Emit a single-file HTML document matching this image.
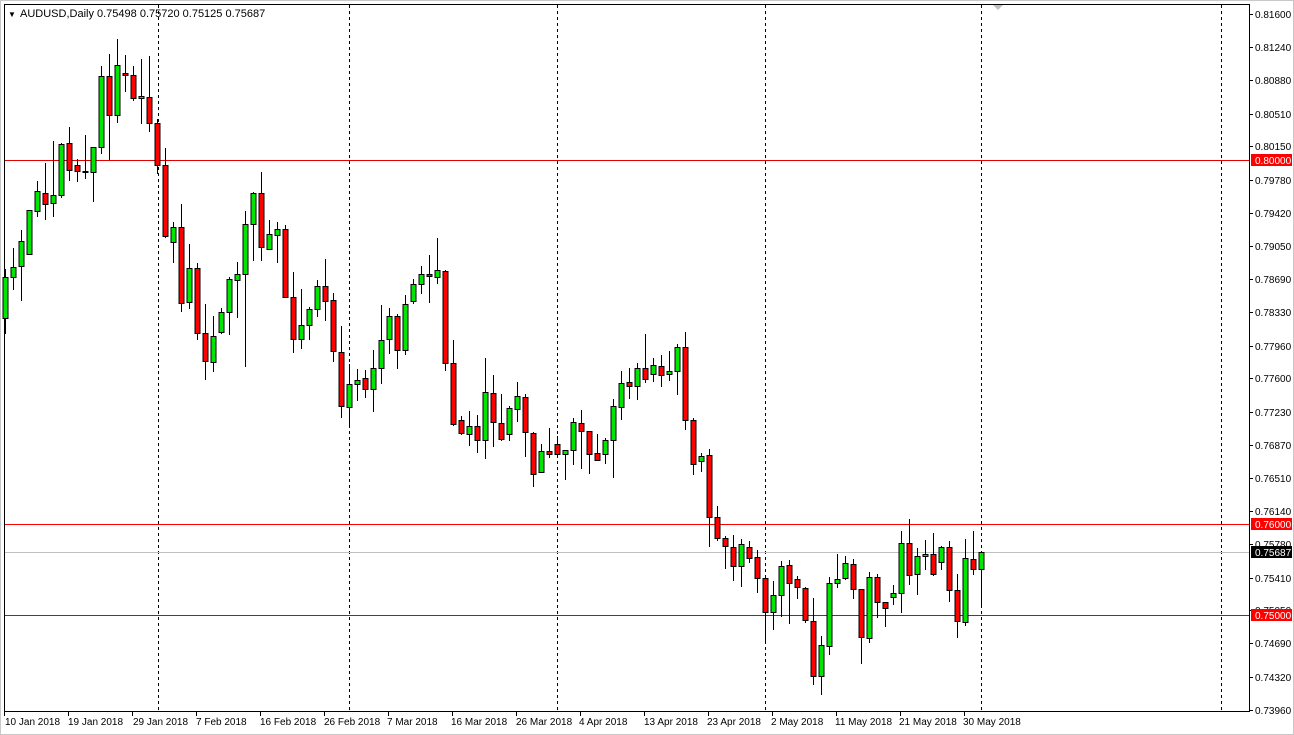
<!DOCTYPE html>
<html><head><meta charset="utf-8"><style>
body{margin:0;background:#fff;width:1294px;height:735px;overflow:hidden}
svg{display:block;font-family:"Liberation Sans",sans-serif}
</style></head><body>
<svg id="s" width="1294" height="735" xmlns="http://www.w3.org/2000/svg">
<rect x="0" y="0" width="1294" height="735" fill="#fff"/>
<rect x="0.5" y="0.5" width="1293" height="734" fill="none" stroke="#c8c8c8"/>
<line x1="4.5" y1="4" x2="4.5" y2="712" stroke="#000"/>
<line x1="4" y1="4.5" x2="1249" y2="4.5" stroke="#000"/>
<line x1="4" y1="711.5" x2="1249" y2="711.5" stroke="#000"/>
<line x1="1249.5" y1="4" x2="1249.5" y2="712" stroke="#000"/>
<g stroke="#000" stroke-dasharray="3,3">
<line x1="158.5" y1="5" x2="158.5" y2="711"/><line x1="349.5" y1="5" x2="349.5" y2="711"/>
<line x1="557.5" y1="5" x2="557.5" y2="711"/><line x1="765.5" y1="5" x2="765.5" y2="711"/>
<line x1="981.5" y1="5" x2="981.5" y2="711"/><line x1="1221.5" y1="5" x2="1221.5" y2="711"/>
</g>
<line x1="5" y1="160.5" x2="1249" y2="160.5" stroke="#e00000"/>
<line x1="5" y1="524.5" x2="1249" y2="524.5" stroke="#ff0000"/>
<line x1="5" y1="615.5" x2="1249" y2="615.5" stroke="#e00000"/>
<line x1="5" y1="552.5" x2="1249" y2="552.5" stroke="#c0c0c0"/>
<polygon points="993,5 1003,5 998,10" fill="#c0c0c0"/>
<g id="c"></g>
<text x="8" y="17" font-size="8" fill="#000">▼</text>
<text x="20" y="17" font-size="11" fill="#000">AUDUSD,Daily  0.75498 0.75720 0.75125 0.75687</text>
<g id="ax" font-size="10" fill="#000"></g>
<g font-size="10" fill="#000">
<text x="5" y="725">10 Jan 2018</text><text x="68" y="725">19 Jan 2018</text><text x="133" y="725">29 Jan 2018</text>
<text x="196" y="725">7 Feb 2018</text><text x="260" y="725">16 Feb 2018</text><text x="324" y="725">26 Feb 2018</text>
<text x="387" y="725">7 Mar 2018</text><text x="451" y="725">16 Mar 2018</text><text x="516" y="725">26 Mar 2018</text>
<text x="579" y="725">4 Apr 2018</text><text x="644" y="725">13 Apr 2018</text><text x="707" y="725">23 Apr 2018</text>
<text x="771" y="725">2 May 2018</text><text x="835" y="725">11 May 2018</text><text x="899" y="725">21 May 2018</text>
<text x="963" y="725">30 May 2018</text>
</g>
<g stroke="#000">
<line x1="4.5" y1="712" x2="4.5" y2="716"/><line x1="68.5" y1="712" x2="68.5" y2="716"/><line x1="132.5" y1="712" x2="132.5" y2="716"/>
<line x1="196.5" y1="712" x2="196.5" y2="716"/><line x1="260.5" y1="712" x2="260.5" y2="716"/><line x1="324.5" y1="712" x2="324.5" y2="716"/>
<line x1="388.5" y1="712" x2="388.5" y2="716"/><line x1="452.5" y1="712" x2="452.5" y2="716"/><line x1="516.5" y1="712" x2="516.5" y2="716"/>
<line x1="580.5" y1="712" x2="580.5" y2="716"/><line x1="644.5" y1="712" x2="644.5" y2="716"/><line x1="708.5" y1="712" x2="708.5" y2="716"/>
<line x1="772.5" y1="712" x2="772.5" y2="716"/><line x1="836.5" y1="712" x2="836.5" y2="716"/><line x1="900.5" y1="712" x2="900.5" y2="716"/>
<line x1="964.5" y1="712" x2="964.5" y2="716"/>
</g>
<rect x="1251" y="154" width="41" height="12" fill="#ff0000"/><text x="1255" y="164" font-size="10" fill="#fff">0.80000</text>
<rect x="1251" y="518" width="41" height="12" fill="#ff0000"/><text x="1255" y="528" font-size="10" fill="#fff">0.76000</text>
<rect x="1251" y="546" width="41" height="12" fill="#000"/><text x="1255" y="556" font-size="10" fill="#fff">0.75687</text>
<rect x="1251" y="609" width="41" height="12" fill="#ff0000"/><text x="1255" y="619" font-size="10" fill="#fff">0.75000</text>
</svg>
<script>
var D=[
["g",269,277,318,334],["g",248,267,277,290],["g",230,241,266,301],["g",210,210,254,254],["g",181,191,211,217],
["r",163,193,204,220],["g",141,195,203,217],["g",143,144,195,198],["r",127,143,170,181],["r",159,165,171,182],
["r",135,171,172,179],["g",147,147,172,202],["g",66,76,147,154],["r",54,76,115,160],["g",39,65,115,123],
["r",55,73,75,92],["r",66,75,98,101],["g",59,96,98,124],["r",56,97,123,132],["r",119,123,165,174],
["r",148,165,236,238],["g",222,227,242,263],["r",204,227,303,312],["g",244,268,302,309],["r",263,268,333,340],
["r",304,333,361,380],["g",316,336,362,372],["g",308,312,332,334],["g",277,279,312,335],["g",262,274,280,318],
["g",211,224,274,367],["g",192,193,224,261],["r",172,193,247,261],["g",220,234,249,249],["g",222,229,235,263],
["r",225,229,297,298],["r",272,297,339,353],["g",289,325,339,349],["g",307,309,325,340],["g",280,286,309,317],
["r",259,286,301,321],["r",293,300,351,362],["r",326,352,406,418],["g",364,384,407,427],["g",369,380,384,401],
["r",370,378,389,398],["g",350,368,389,412],["g",305,340,368,384],["g",308,316,339,354],["r",314,316,350,369],
["g",295,304,350,355],["g",279,284,301,304],["g",266,274,284,294],["r",255,274,276,303],["g",238,270,277,284],
["r",270,271,363,371],["r",340,363,424,426],["r",416,420,433,435],["g",411,426,434,446],["r",415,426,440,453],
["g",358,392,440,459],["r",375,393,422,447],["r",394,423,439,441],["g",406,408,434,441],["g",382,396,409,422],
["r",394,397,432,457],["r",432,433,474,487],["g",444,451,472,472],["r",428,451,454,458],["r",436,444,454,454],
["g",450,450,454,480],["g",418,422,450,465],["r",410,423,431,469],["r",431,431,454,474],["r",434,453,460,461],
["g",438,440,454,464],["g",399,406,440,478],["g",371,383,407,420],["r",368,382,386,399],["g",363,368,386,400],
["r",334,368,379,383],["g",358,365,374,382],["r",355,366,375,387],["g",351,371,374,381],["g",344,347,371,395],
["r",332,347,420,430],["r",418,420,464,475],["g",453,456,461,472],["r",449,455,517,547],["r",506,517,538,541],
["r",536,538,546,569],["r",535,547,566,581],["g",539,544,566,587],["r",541,547,558,563],["r",550,557,578,593],
["r",578,578,612,642],["g",581,595,612,630],["g",561,566,595,617],["r",560,565,583,624],["r",576,579,587,599],
["r",587,588,620,623],["r",598,621,676,685],["g",636,645,676,695],["g",577,583,646,655],["g",554,579,583,588],
["g",556,563,578,580],["r",559,564,589,599],["r",589,589,637,664],["g",572,577,638,643],["r",574,577,602,618],
["r",602,602,608,627],["g",585,593,597,605],["g",531,543,593,613],["r",519,543,575,585],["g",548,556,574,595],
["g",540,554,556,570],["r",533,554,574,576],["g",546,547,562,570],["r",541,547,590,602],["r",574,590,621,638],
["g",539,558,622,626],["r",531,559,569,575],["g",552,552,569,607]];
var h="";
D.forEach(function(d,i){var x=5.5+8*i;var xc=Math.floor(x)+0.5;
h+='<line x1="'+xc+'" y1="'+d[1]+'" x2="'+xc+'" y2="'+d[4]+'" stroke="#000"/>';
var t=d[2],b=Math.max(d[3],d[2]+1);
h+='<rect x="'+(xc-2.5)+'" y="'+(t+0.5)+'" width="5" height="'+(b-t)+'" fill="'+(d[0]=="g"?"#00e600":"#ff0000")+'" stroke="#000"/>';});
document.getElementById("c").innerHTML=h;
var L=[0.816,0.8124,0.8088,0.8051,0.8015,0.7978,0.7942,0.7905,0.7869,0.7833,0.7796,0.776,0.7723,0.7687,0.7651,0.7614,0.7578,0.7541,0.7505,0.7469,0.7432,0.7396],a="";
L.forEach(function(p){var y=Math.round(160+(0.8-p)*9100);a+='<line x1="1249" y1="'+(y+0.5)+'" x2="1253" y2="'+(y+0.5)+'" stroke="#000"/><text x="1255" y="'+(y+4)+'">'+p.toFixed(5)+'</text>';});
document.getElementById("ax").innerHTML=a;
</script>
</body></html>
